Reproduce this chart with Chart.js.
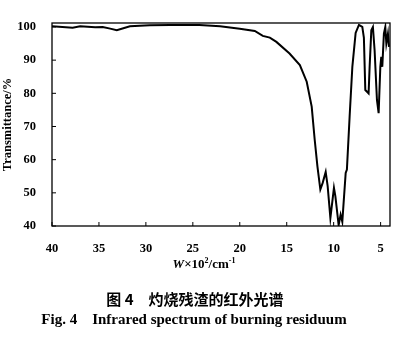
<!DOCTYPE html>
<html>
<head>
<meta charset="utf-8">
<script src="https://cdn.jsdelivr.net/npm/chart.js@4/dist/chart.umd.min.js"></script>
<style>
  body { margin: 0; background: #fff; }
  #wrap { position: relative; width: 402px; height: 343px; }
  .cap { position: absolute; left: 0; width: 402px; text-align: center; color: #000; white-space: pre; }
  #xtitle { top: 256px; left: 3px; font: bold 13px "Liberation Serif", serif; }
  #xtitle sup { font-size: 8px; }
  #cn { top: 288px; left: -6px; font: bold 15px "Noto Sans CJK SC", sans-serif; }
  #en { top: 311px; left: -7px; font: bold 15px "Liberation Serif", serif; }
</style>
</head>
<body>
<div id="wrap">
  <canvas id="myChart" width="402" height="343"></canvas>
  <div class="cap" id="xtitle"><i>W</i>×10<sup>2</sup>/cm<sup>-1</sup></div>
  <div class="cap" id="cn">图 4　灼烧残渣的红外光谱</div>
  <div class="cap" id="en">Fig. 4    Infrared spectrum of burning residuum</div>
</div>
<script>
// wavenumber (x 100 cm-1) and transmittance (%)
const wavenumber = [40, 37.8, 37.0, 35.4, 34.6, 33.8, 33.1, 32.4, 31.7, 29.6, 27.4, 24.3, 22.1, 20.0, 18.4,
    17.55, 16.8, 16.1, 14.7, 13.6, 12.87, 12.34, 12.02, 11.73, 11.42, 11.17, 10.85, 10.64, 10.35,
    9.97, 9.82, 9.47, 9.26, 9.08, 8.72, 8.59, 8.30, 8.01, 7.66, 7.31, 6.95, 6.78, 6.63, 6.28, 6.17,
    5.99, 5.82, 5.64, 5.39, 5.21, 5.03, 4.93, 4.82, 4.65, 4.50, 4.39, 4.22, 4.11];
const transmittance = [100.2, 99.8, 100.2, 99.9, 100.0, 99.5, 99.0, 99.6, 100.2, 100.5, 100.6, 100.6, 100.2, 99.5, 98.8,
    97.3, 96.8, 95.5, 92, 88.5, 83.5, 76, 66, 58, 51, 53, 56.3, 52, 42.4,
    51.5, 49, 40.3, 43.4, 41.3, 56, 57, 73, 88, 98.2, 100.6, 100, 96.7, 81, 80, 88,
    99, 100, 93, 78, 74, 88, 91, 88, 98, 100, 95, 98, 94];
const xTicks = [40, 35, 30, 25, 20, 15, 10, 5];
const yTicks = [40, 50, 60, 70, 80, 90, 100];

const tickFont = { family: 'Liberation Serif', size: 12.5, weight: 'bold' };

// frame round the plot and short tick marks pointing inwards
const framePlugin = {
    id: 'frame',
    afterDraw(chart) {
        const ctx = chart.ctx;
        const a = chart.chartArea;
        ctx.save();
        ctx.strokeStyle = '#000';
        ctx.lineWidth = 1.3;
        ctx.strokeRect(a.left, a.top, a.right - a.left, a.bottom - a.top);
        ctx.lineWidth = 1;
        const xs = chart.scales.x;
        xs.ticks.forEach((t, i) => {
            const px = xs.getPixelForTick(i);
            ctx.beginPath();
            ctx.moveTo(px, a.bottom);
            ctx.lineTo(px, a.bottom - 4);
            ctx.stroke();
        });
        const ys = chart.scales.y;
        ys.ticks.forEach((t, i) => {
            const py = ys.getPixelForTick(i);
            ctx.beginPath();
            ctx.moveTo(a.left, py);
            ctx.lineTo(a.left + 4, py);
            ctx.stroke();
        });
        ctx.restore();
    }
};

let myChart = document.getElementById('myChart').getContext('2d');
let mainChart = new Chart(myChart, {
    type: 'scatter',
    data: {
        datasets: [{
            label: 'Transmittance',
            data: wavenumber.map((w, i) => ({ x: w, y: transmittance[i] })),
            showLine: true,
            borderColor: '#000',
            borderWidth: 2,
            pointRadius: 0,
            tension: 0
        }]
    },
    options: {
        responsive: false,
        animation: false,
        layout: { padding: { left: 0, top: 23, right: 12, bottom: 87 } },
        plugins: { legend: { display: false }, tooltip: { enabled: false } },
        scales: {
            x: {
                type: 'linear',
                reverse: true,
                min: 4,
                max: 40,
                afterBuildTicks: (s) => { s.ticks = xTicks.map(v => ({ value: v })); },
                afterFit: (s) => { s.height = 30; },
                grid: { display: false },
                border: { display: false },
                ticks: { color: '#000', font: tickFont, padding: 7, maxRotation: 0 }
            },
            y: {
                min: 40,
                max: 101.2,
                afterBuildTicks: (s) => { s.ticks = yTicks.map(v => ({ value: v })); },
                afterFit: (s) => { s.width = 52; },
                grid: { display: false },
                border: { display: false },
                ticks: { color: '#000', font: tickFont, padding: 8 },
                title: {
                    display: true,
                    text: 'Transmittance/%',
                    color: '#000',
                    font: { family: 'Liberation Serif', size: 12.5, weight: 'bold' },
                    padding: 0
                }
            }
        }
    },
    plugins: [framePlugin]
});
</script>
</body>
</html>
